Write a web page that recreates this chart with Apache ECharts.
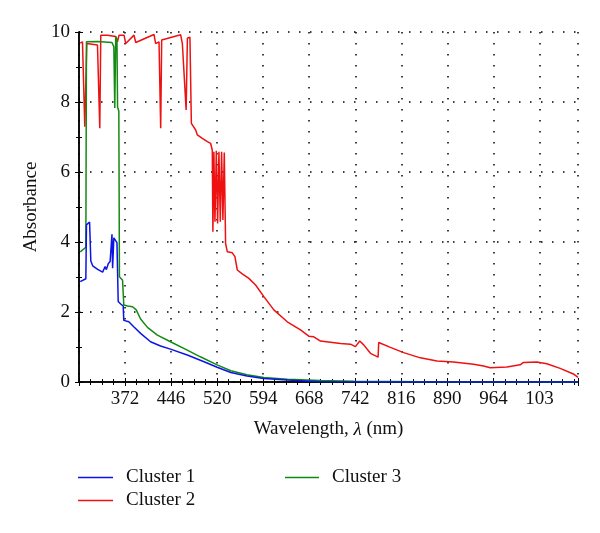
<!DOCTYPE html>
<html>
<head>
<meta charset="utf-8">
<script src="https://cdn.jsdelivr.net/npm/echarts@6/dist/echarts.min.js"></script>
<style>
  html, body { margin: 0; padding: 0; background: #fff; }
  #chart { width: 600px; height: 533px; }
</style>
</head>
<body>
<div id="chart"></div>
<script>
// wavelength axis starts at 298 nm, ticks every 74 nm
const X_MIN = 298
const X_MAX = 1100
const xTickLabels = ['372', '446', '520', '594', '668', '742', '816', '890', '964', '103']
const yTicks = [0, 2, 4, 6, 8, 10]

// Cluster 1 (blue)
const c1Wl  = [300, 309, 310, 315, 317, 320, 328, 336, 340, 342, 345, 348, 351, 352, 354, 357, 359, 361, 365, 369, 370, 378, 386, 397, 413, 429, 445, 472, 499, 520, 542, 568, 595, 633, 686, 750, 900, 1100]
const c1Abs = [2.87, 2.95, 4.49, 4.57, 3.46, 3.32, 3.22, 3.14, 3.30, 3.21, 3.38, 3.44, 4.22, 3.25, 4.12, 4.12, 3.98, 2.30, 2.23, 2.17, 1.76, 1.72, 1.58, 1.39, 1.15, 1.03, 0.94, 0.77, 0.58, 0.42, 0.27, 0.17, 0.10, 0.06, 0.01, 0.003, 0, 0]

// Cluster 2 (red)
const c2Wl  = [300, 303.6, 307.3, 310.5, 327.7, 331.4, 333, 343.8, 357, 359.8, 362.4, 370.4, 373.1, 386.4, 389.2, 418.5, 421.2, 426.6, 429.3, 430.9, 461.4, 464.1, 466.7, 470.2, 472.2, 476.3, 478.6, 481.8, 485.5, 488.2, 496.2, 504.3, 509.5, 512.2, 513.2, 514.8, 516.5, 518.7, 520.8, 522.9, 525.1, 527.2, 529.3, 531.5, 533.6, 536.4, 538.9, 544.4, 548.6, 552.4, 560.4, 571, 581.8, 595.1, 611.1, 632.7, 654, 667.3, 675.3, 686.1, 718.2, 734.3, 742.3, 749.2, 755.6, 766.4, 778.7, 779.7, 798.5, 819.8, 846.6, 873.4, 900, 932.2, 948.2, 958.9, 985.7, 1007.1, 1012.4, 1033.9, 1049.9, 1071.3, 1092.6, 1100]
const c2Abs = [9.68, 9.72, 7.29, 9.67, 9.63, 7.25, 9.91, 9.91, 9.87, 9.72, 9.91, 9.91, 9.67, 9.91, 9.70, 9.93, 9.67, 9.72, 7.25, 9.77, 9.92, 9.67, 9.65, 7.77, 9.82, 9.85, 7.39, 7.34, 7.20, 7.06, 6.96, 6.87, 6.82, 6.63, 4.29, 6.58, 4.58, 6.61, 4.53, 6.58, 4.58, 6.58, 4.63, 6.56, 3.96, 3.72, 3.67, 3.69, 3.58, 3.20, 3.09, 2.96, 2.77, 2.44, 2.06, 1.72, 1.49, 1.31, 1.29, 1.17, 1.10, 1.08, 1.01, 1.17, 1.06, 0.82, 0.71, 1.13, 0.99, 0.84, 0.69, 0.60, 0.57, 0.51, 0.46, 0.41, 0.43, 0.49, 0.56, 0.57, 0.52, 0.39, 0.23, 0.13]

// Cluster 3 (green)
const c3Wl  = [300, 309, 310, 312, 328, 351, 354, 355.5, 357, 359, 360, 362, 363, 368, 370, 376, 384, 390, 397, 408, 424, 445, 472, 493, 520, 542, 568, 595, 633, 686, 740, 850, 1100]
const c3Abs = [3.72, 3.85, 9.72, 9.76, 9.73, 9.70, 9.58, 7.83, 9.86, 9.78, 7.85, 7.74, 3.01, 2.91, 2.20, 2.17, 2.15, 2.06, 1.80, 1.56, 1.34, 1.15, 0.91, 0.72, 0.49, 0.32, 0.21, 0.13, 0.08, 0.04, 0.02, 0.005, 0]

function pairs(wl, ab) {
    return wl.map((w, i) => [w - X_MIN, ab[i]])
}

const FONT = '"Liberation Serif", "DejaVu Serif", serif'
const axisLine = { show: true, lineStyle: { color: '#000', width: 1.5 } }
const dotted = { show: true, lineStyle: { color: '#000', width: 1.5, type: [1.5, 9.5] } }
const legendText = { fontFamily: FONT, fontSize: 19, color: '#111', padding: [0, 0, 0, 8] }

let chart = echarts.init(document.getElementById('chart'))
chart.setOption({
    animation: false,
    grid: { left: 79, right: 22, top: 32, bottom: 151 },
    textStyle: { fontFamily: FONT },
    legend: [
        {
            data: ['Cluster 1', 'Cluster 2'],
            orient: 'vertical',
            left: 73, top: 463,
            icon: 'rect',
            itemWidth: 35, itemHeight: 1.6, itemGap: 4,
            textStyle: legendText
        },
        {
            data: ['Cluster 3'],
            orient: 'vertical',
            left: 280, top: 463,
            icon: 'rect',
            itemWidth: 34, itemHeight: 1.6,
            textStyle: legendText
        }
    ],
    xAxis: [
        {
            type: 'value',
            min: 0, max: X_MAX - X_MIN, interval: 74,
            axisLine: axisLine,
            axisTick: { show: true, inside: true, length: 4, lineStyle: { color: '#000' } },
            minorTick: { show: true, splitNumber: 4, length: 3, lineStyle: { color: '#000' } },
            splitLine: dotted,
            axisLabel: {
                fontFamily: FONT, fontSize: 19, color: '#111', margin: 8,
                showMinLabel: false, showMaxLabel: false,
                formatter: function (v) {
                    let i = Math.round(v / 74) - 1
                    return (i >= 0 && i < xTickLabels.length && v % 74 === 0) ? xTickLabels[i] : ''
                }
            },
            name: 'Wavelength, {i|λ} (nm)',
            nameLocation: 'middle',
            nameGap: 38,
            nameTextStyle: { fontFamily: FONT, fontSize: 19, color: '#111', rich: { i: { fontStyle: 'italic', fontFamily: FONT, fontSize: 19 } } }
        },
        {
            type: 'value', position: 'top',
            min: 0, max: X_MAX - X_MIN, interval: 74,
            axisLine: axisLine,
            axisTick: { show: true, inside: true, length: 4, lineStyle: { color: '#000' } },
            minorTick: { show: true, splitNumber: 4, length: 3, lineStyle: { color: '#000' } },
            axisLabel: { show: false },
            splitLine: { show: false }
        }
    ],
    yAxis: [
        {
            type: 'value',
            min: 0, max: 10, interval: 2,
            axisLine: axisLine,
            axisTick: { show: true, inside: true, length: 4, lineStyle: { color: '#000' } },
            minorTick: { show: true, splitNumber: 2, length: 3, lineStyle: { color: '#000' } },
            splitLine: dotted,
            axisLabel: {
                fontFamily: FONT, fontSize: 19, color: '#111', margin: 9,
                formatter: v => yTicks.includes(v) ? String(v) : ''
            },
            name: 'Absorbance',
            nameLocation: 'middle',
            nameGap: 37,
            nameTextStyle: { fontFamily: FONT, fontSize: 19, color: '#111' }
        },
        {
            type: 'value', position: 'right',
            min: 0, max: 10, interval: 2,
            axisLine: axisLine,
            axisTick: { show: true, inside: true, length: 4, lineStyle: { color: '#000' } },
            minorTick: { show: true, splitNumber: 2, length: 3, lineStyle: { color: '#000' } },
            axisLabel: { show: false },
            splitLine: { show: false }
        }
    ],
    series: [
        {
            name: 'Cluster 1', type: 'line', symbol: 'none',
            data: pairs(c1Wl, c1Abs),
            lineStyle: { color: '#0a14e6', width: 1.5 },
            itemStyle: { color: '#0a14e6' },
            z: 3
        },
        {
            name: 'Cluster 2', type: 'line', symbol: 'none',
            data: pairs(c2Wl, c2Abs),
            lineStyle: { color: '#ee1111', width: 1.5 },
            itemStyle: { color: '#ee1111' },
            z: 2
        },
        {
            name: 'Cluster 3', type: 'line', symbol: 'none',
            data: pairs(c3Wl, c3Abs),
            lineStyle: { color: '#138a13', width: 1.5 },
            itemStyle: { color: '#138a13' },
            z: 2
        }
    ]
})
</script>
</body>
</html>
